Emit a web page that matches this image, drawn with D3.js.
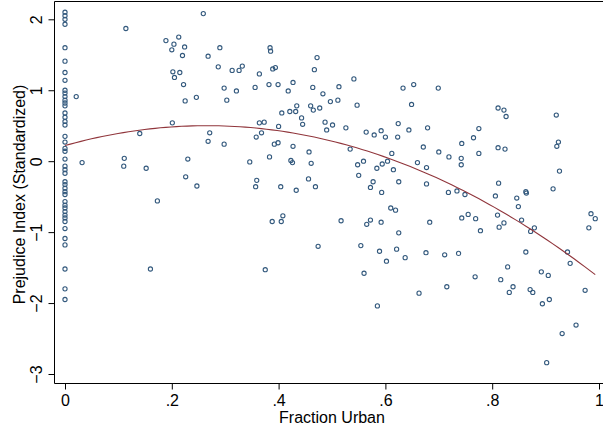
<!DOCTYPE html>
<html>
<head>
<meta charset="utf-8">
<script src="https://cdn.jsdelivr.net/npm/d3@7"></script>
<style>
  html, body { margin: 0; padding: 0; background: #fff; }
  svg { display: block; font-family: "Liberation Sans", Arial, Helvetica, sans-serif; }
</style>
</head>
<body>
<svg id="chart" width="603" height="429"></svg>
<script>
// Counties with no urban population (fraction urban = 0)
const prejudiceRural = [2.10, 2.05, 2.00, 1.93, 1.60, 1.41, 1.25, 1.14, 1.00, 0.96, 0.91, 0.86,
  0.82, 0.78, 0.68, 0.62, 0.56, 0.51, 0.35, 0.27, 0.18, 0.14, 0.03, -0.07, -0.12, -0.17,
  -0.29, -0.33, -0.38, -0.43, -0.47, -0.57, -0.62, -0.66, -0.71, -0.76, -0.80, -0.85,
  -0.95, -1.09, -1.18, -1.52, -1.80, -1.95];

// Remaining counties: fraction urban and prejudice index, paired by position
const fracUrban = [
  0.021, 0.032, 0.114, 0.189, 0.204, 0.213, 0.200, 0.224, 0.220, 0.202, 0.215, 0.205, 0.222, 0.225,
  0.246, 0.201, 0.140, 0.111, 0.110, 0.152, 0.230, 0.226, 0.247, 0.173, 0.160,
  0.259, 0.268, 0.290, 0.287, 0.313, 0.326, 0.332, 0.298, 0.321, 0.303, 0.356, 0.364, 0.384, 0.385,
  0.389, 0.394, 0.382, 0.399, 0.418, 0.427, 0.406, 0.421, 0.432, 0.434, 0.443, 0.445, 0.400, 0.364,
  0.373, 0.271, 0.268, 0.298, 0.358, 0.368, 0.392, 0.399, 0.427, 0.346, 0.383, 0.423, 0.426, 0.457,
  0.461, 0.359, 0.357, 0.404, 0.433, 0.456, 0.469, 0.460, 0.465, 0.477, 0.464, 0.467, 0.472, 0.483,
  0.497, 0.511, 0.513, 0.541, 0.547, 0.487, 0.490, 0.501, 0.526, 0.534, 0.564, 0.579, 0.592, 0.600,
  0.624, 0.623, 0.612, 0.604, 0.594, 0.584, 0.559, 0.548, 0.550, 0.615, 0.625, 0.577, 0.572, 0.593,
  0.633, 0.653, 0.699, 0.649, 0.644, 0.679, 0.671, 0.700, 0.719, 0.742, 0.742, 0.743, 0.765, 0.775,
  0.775, 0.811, 0.822, 0.826, 0.811, 0.824, 0.920, 0.924, 0.921, 0.926, 0.660, 0.677, 0.677, 0.718,
  0.734, 0.749, 0.812, 0.806, 0.846, 0.863, 0.864, 0.914,
  0.849, 0.810, 0.822, 0.813, 0.855, 0.872, 0.879, 0.863, 0.829, 0.816, 0.839, 0.832, 0.871, 0.876,
  0.892, 0.905, 0.894, 0.907, 0.941, 0.946, 0.974, 0.985, 0.993, 0.981, 0.931, 0.957, 0.902, 0.743,
  0.755, 0.769, 0.778, 0.683, 0.637, 0.676, 0.711, 0.737, 0.768, 0.715, 0.663,
  0.610, 0.619, 0.388, 0.405, 0.408, 0.517, 0.565, 0.572, 0.592, 0.625, 0.474, 0.554, 0.589, 0.621,
  0.602, 0.375, 0.560, 0.585
];
const prejudice = [
  0.91, -0.02, 1.87, 1.70, 1.65, 1.75, 1.57, 1.61, 1.49, 1.26, 1.25, 1.18, 1.08, 0.85,
  0.90, 0.54, 0.39, 0.04, -0.07, -0.10, 0.03, -0.22, -0.35, -0.56, -1.52,
  2.08, 1.48, 1.60, 1.33, 1.28, 1.28, 1.34, 1.03, 0.99, 0.86, 1.04, 1.23, 1.60, 1.55,
  1.30, 1.32, 1.08, 1.08, 0.99, 1.11, 0.68, 0.70, 0.70, 0.78, 0.61, 0.52, 0.49, 0.54,
  0.55, 0.40, 0.28, 0.24, 0.34, 0.40, 0.24, 0.26, 0.21, -0.01, 0.06, 0.01, -0.02, 0.13,
  -0.03, -0.27, -0.36, -0.36, -0.41, -0.25, -0.36, 0.78, 0.72, 0.75, 1.04, 1.29, 1.46, 0.95,
  0.84, 0.86, 1.05, 1.16, 0.79, 0.55, 0.44, 0.51, 0.47, 0.17, 0.41, 0.37, 0.43, 0.34,
  0.53, 0.34, 0.11, 0.00, -0.04, -0.10, 0.00, -0.05, -0.20, -0.12, -0.29, -0.29, -0.37, -0.44,
  1.03, 1.08, 1.03, 0.80, 0.44, 0.47, 0.20, 0.13, 0.06, 0.04, -0.05, 0.25, 0.33, 0.46,
  0.11, 0.75, 0.72, 0.63, 0.19, 0.17, 0.65, 0.27, 0.21, -0.14, -0.02, -0.09, -0.32, -0.44,
  -0.42, -0.47, -0.31, -0.49, -0.52, -0.43, -0.45, -0.39,
  -0.64, -0.76, -0.87, -0.93, -0.83, -0.99, -0.94, -1.28, -1.49, -1.67, -1.77, -1.85, -1.81, -1.85,
  -1.56, -1.61, -2.01, -1.95, -1.28, -1.44, -1.82, -0.74, -0.81, -0.94, -2.43, -2.31, -2.84, -0.80,
  -0.75, -0.81, -0.98, -0.86, -1.36, -1.29, -1.32, -1.30, -1.63, -1.77, -1.86,
  -0.66, -0.69, -0.85, -0.85, -0.77, -0.84, -0.89, -0.83, -0.86, -1.01, -1.20, -1.19, -1.27, -1.24,
  -1.41, -1.53, -1.58, -2.04
];

// Quadratic prediction: intercept, linear and squared terms
const fitCoef = [0.22, 2.11, -3.97];

const xTicks = [0, 0.2, 0.4, 0.6, 0.8, 1];
const xTickLabels = ["0", ".2", ".4", ".6", ".8", "1"];
const yTicks = [-3, -2, -1, 0, 1, 2];
const yTickLabels = ["\u22123", "\u22122", "\u22121", "0", "1", "2"];
const xTitle = "Fraction Urban";
const yTitle = "Prejudice Index (Standardized)";

// Combine the two groups into one list of observations
const points = prejudiceRural.map(v => ({ x: 0, y: v }))
  .concat(fracUrban.map((u, i) => ({ x: u, y: prejudice[i] })));

const svg = d3.select("#chart");
const plot = { left: 54.5, right: 603, top: 1.5, bottom: 383.5 };

const x = d3.scaleLinear().domain([0, 1]).range([65, 599]);
const y = d3.scaleLinear().domain([-3, 2]).range([374, 19.3]);

// Top rule of the plot region
svg.append("line").attr("x1", plot.left).attr("x2", plot.right)
  .attr("y1", plot.top).attr("y2", plot.top).attr("stroke", "#000").attr("stroke-width", 1);

// Axes
const xAxis = d3.axisBottom(x).tickValues(xTicks).tickSize(6).tickSizeOuter(0)
  .tickPadding(5).tickFormat((d, i) => xTickLabels[i]);
const gx = svg.append("g").attr("transform", `translate(0,${plot.bottom})`).call(xAxis);
gx.select(".domain").remove();
gx.selectAll(".tick line").attr("stroke", "#000");
gx.selectAll(".tick text").attr("font-size", 16).attr("fill", "#000")
  .attr("font-family", "Liberation Sans, Arial, sans-serif");

const yAxis = d3.axisLeft(y).tickValues(yTicks).tickSize(6).tickSizeOuter(0)
  .tickFormat((d, i) => yTickLabels[i]);
const gy = svg.append("g").attr("transform", `translate(${plot.left},0)`).call(yAxis);
gy.select(".domain").remove();
gy.selectAll(".tick line").attr("stroke", "#000");
gy.selectAll(".tick text")
  .attr("transform", "rotate(-90)")
  .attr("x", 0).attr("y", -12.8).attr("dy", 0)
  .attr("text-anchor", "middle")
  .attr("font-size", 16).attr("fill", "#000")
  .attr("font-family", "Liberation Sans, Arial, sans-serif");

svg.append("line").attr("x1", plot.left).attr("x2", plot.left)
  .attr("y1", plot.top).attr("y2", plot.bottom).attr("stroke", "#000").attr("stroke-width", 1);
svg.append("line").attr("x1", plot.left).attr("x2", plot.right)
  .attr("y1", plot.bottom).attr("y2", plot.bottom).attr("stroke", "#000").attr("stroke-width", 1);

// Axis titles
svg.append("text").attr("x", 332).attr("y", 423)
  .attr("text-anchor", "middle").attr("font-size", 16).attr("fill", "#000").text(xTitle);
svg.append("text").attr("transform", "translate(24.5,194.5) rotate(-90)")
  .attr("text-anchor", "middle").attr("font-size", 16).attr("fill", "#000").text(yTitle);

// Scatter markers (hollow circles)
svg.append("g").selectAll("circle").data(points).join("circle")
  .attr("cx", d => x(d.x)).attr("cy", d => y(d.y)).attr("r", 2.1)
  .attr("fill", "none").attr("stroke", "#33597d").attr("stroke-width", 1.1);

// Fitted quadratic over the observed range of fraction urban
const xr = d3.extent(points, d => d.x);
const fitPts = d3.range(0, 101).map(i => {
  const u = xr[0] + (xr[1] - xr[0]) * i / 100;
  return [u, fitCoef[0] + fitCoef[1] * u + fitCoef[2] * u * u];
});
svg.append("path").datum(fitPts)
  .attr("d", d3.line().x(d => x(d[0])).y(d => y(d[1])))
  .attr("fill", "none").attr("stroke", "#90353b").attr("stroke-width", 1.1);
</script>
</body>
</html>
